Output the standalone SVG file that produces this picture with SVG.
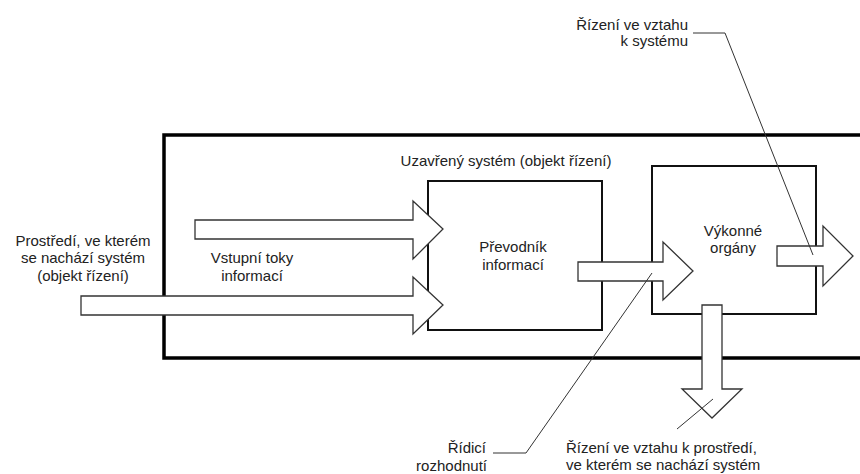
<svg xmlns="http://www.w3.org/2000/svg" width="860" height="474" viewBox="0 0 860 474">
<style>
text { font-family: "Liberation Sans", Arial, sans-serif; font-size: 15px; fill: #222; }
.c { text-anchor: middle; }
.e { text-anchor: end; }
.box { fill: none; stroke: #111; stroke-width: 2; }
.outer { fill: none; stroke: #000; stroke-width: 3.5; }
.arrow { fill: #fff; stroke: #333; stroke-width: 1.3; stroke-linejoin: miter; }
.lead { fill: none; stroke: #333; stroke-width: 1; }
</style>
<rect width="860" height="474" fill="#fff"/>
<g id="system">
  <path class="outer" d="M 872 135 H 164 V 358 H 872"/>
  <text class="c" x="506" y="166">Uzavřený systém (objekt řízení)</text>
</g>
<g id="prevodnik">
  <rect class="box" x="428" y="181" width="174" height="149"/>
  <text class="c" x="513" y="252">Převodník</text>
  <text class="c" x="513" y="270">informací</text>
</g>
<g id="vykonne">
  <rect class="box" x="652" y="166" width="164" height="148"/>
  <text class="c" x="733" y="236">Výkonné</text>
  <text class="c" x="733" y="253">orgány</text>
</g>
<g id="prostredi">
  <text class="c" x="83" y="246">Prostředí, ve kterém</text>
  <text class="c" x="83" y="263">se nachází systém</text>
  <text class="c" x="83" y="281">(objekt řízení)</text>
</g>
<g id="vstupni">
  <text class="c" x="252" y="263">Vstupní toky</text>
  <text class="c" x="252" y="281">informací</text>
</g>
<g id="connectors">
  <polygon class="arrow" points="195,220 413,220 413,201 443,229 413,259 413,239 195,239"/>
  <polygon class="arrow" points="81,296 413,296 413,277 443,305 413,334 413,315 81,315"/>
  <polygon class="arrow" points="578,262 663,262 663,242 693,271 663,300 663,281 578,281"/>
  <polygon class="arrow" points="777,246 823,246 823,226 853,256 823,286 823,266 777,266"/>
  <polygon class="arrow" points="702,305 722,305 722,389 742,389 712,418 682,389 702,389"/>
  <polyline class="lead" points="493,453 526,453 652,273"/>
  <polyline class="lead" points="693,33 725,33 813,255"/>
  <line class="lead" x1="677" y1="429" x2="713" y2="399"/>
</g>
<g id="labels">
  <text class="e" x="486" y="453">Řídicí</text>
  <text class="e" x="487" y="471">rozhodnutí</text>
  <text x="566" y="453">Řízení ve vztahu k prostředí,</text>
  <text x="566" y="470">ve kterém se nachází systém</text>
  <text class="e" x="688" y="30">Řízení ve vztahu</text>
  <text class="e" x="688" y="46">k systému</text>
</g>
</svg>
